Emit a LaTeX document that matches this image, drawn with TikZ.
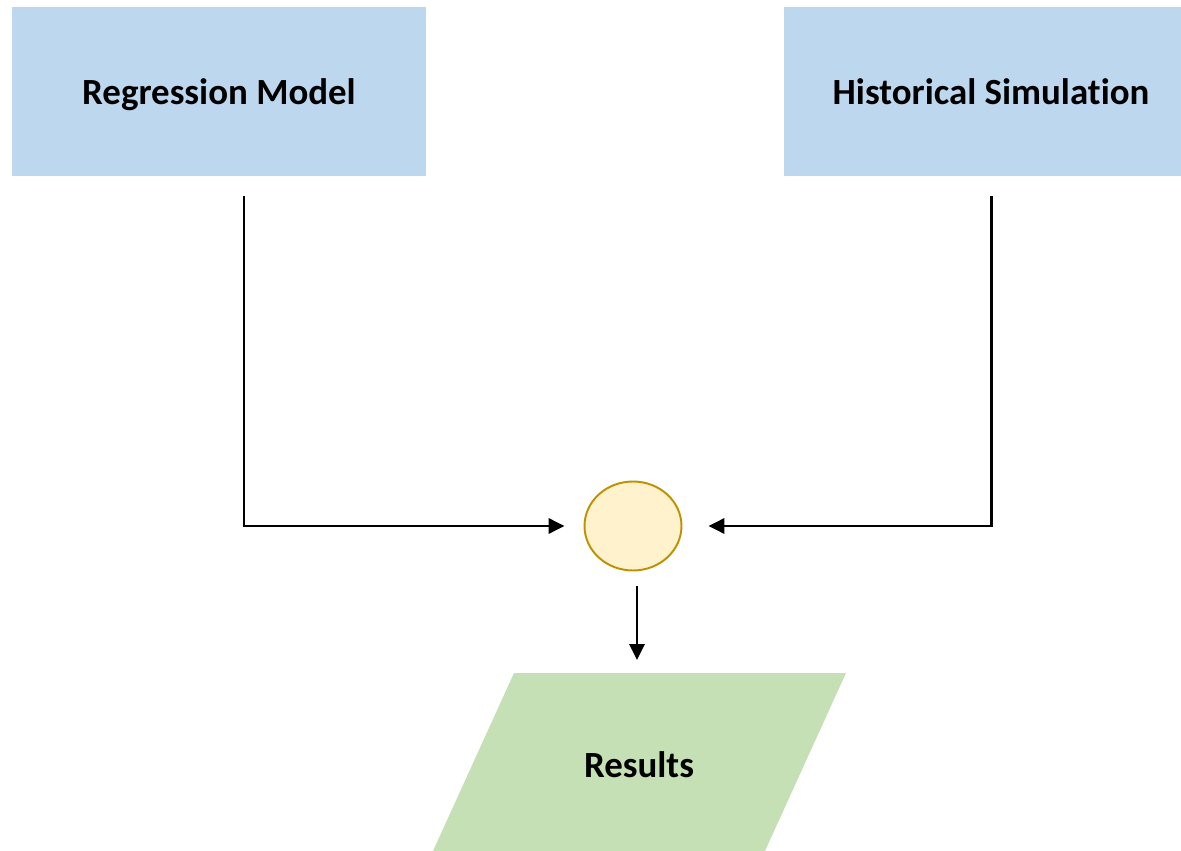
\documentclass[tikz,border=0pt]{standalone}
\usepackage{fontspec}
\setmainfont{Carlito}[Ligatures=NoCommon]
\usetikzlibrary{arrows.meta,shapes.geometric}
\definecolor{boxblue}{HTML}{BDD7EE}
\definecolor{boxgreen}{HTML}{C5E0B4}
\definecolor{joinfill}{HTML}{FFF2CC}
\definecolor{joinline}{HTML}{BF9000}
\begin{document}
\begin{tikzpicture}[x=0.02cm, y=-0.02cm,
    label font/.style={font=\fontsize{21}{25}\selectfont\bfseries, text depth=0pt},
    method/.style={rectangle, fill=boxblue, minimum width=8.28cm, minimum height=3.38cm, label font},
    flow/.style={line width=1.7pt, -{Triangle[length=9pt, width=8.5pt]}}]
    \useasboundingbox (0,0) rectangle (1181,851);
    \node[method] (reg) at (219,91.5) {Regression Model};
    \node[method] (hist) at (991,91.5) {Historical Simulation};
    \node[ellipse, draw=joinline, line width=1.1pt, fill=joinfill, minimum width=1.94cm, minimum height=1.78cm] (merge) at (633,526) {};
    % output parallelogram
    \fill[boxgreen] (514,673) -- (846,673) -- (765,851) -- (433,851) -- cycle;
    \node[label font] (results) at (639,765) {Results};
    \coordinate (regout) at (244,196); \coordinate (histout) at (991,196);
    \coordinate (resin) at (637,673);
    \draw[flow, shorten >=0.38cm] (regout) |- (merge.west);
    \draw[flow, shorten >=0.52cm] (histout) |- (merge.east);
    \draw[flow, shorten <=0.3cm, shorten >=0.26cm] (merge.south -| resin) -- (resin);
\end{tikzpicture}
\end{document}
